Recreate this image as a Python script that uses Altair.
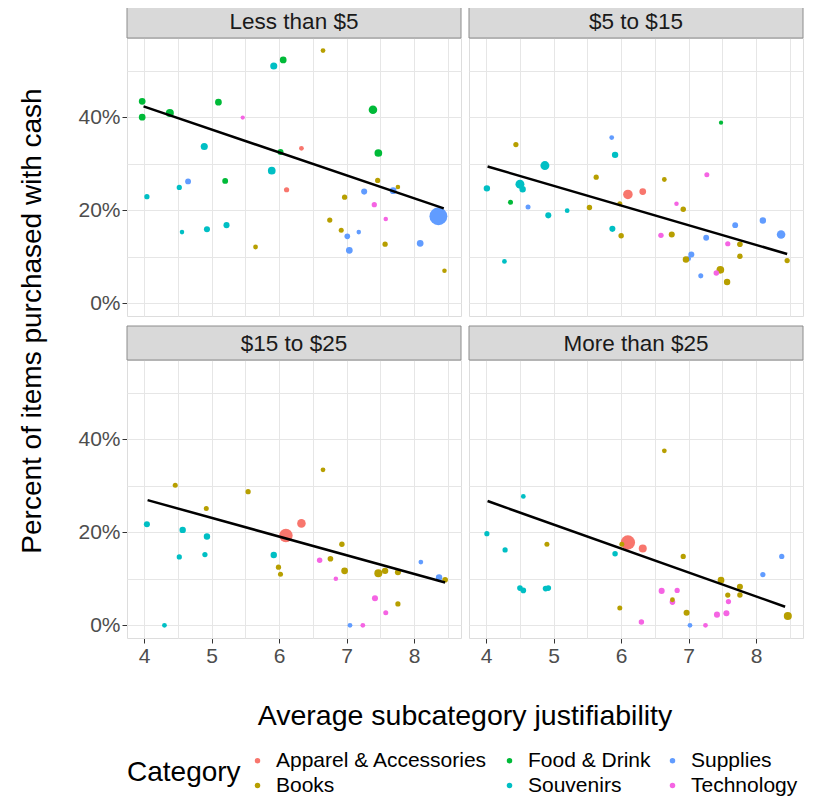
import altair as alt
import pandas as pd

FONT = "Liberation Sans"

CATS = {"A": "Apparel & Accessories", "B": "Books", "F": "Food & Drink",
        "S": "Souvenirs", "U": "Supplies", "T": "Technology"}
legend_order = ["Apparel & Accessories", "Food & Drink", "Supplies",
                "Books", "Souvenirs", "Technology"]
legend_colors = ["#F8766D", "#00BA38", "#619CFF", "#B79F00", "#00BFC4", "#F564E3"]

panels = ["Less than $5", "$5 to $15", "$15 to $25", "More than $25"]

# Panel 1: Less than $5
p1_x = [3.97, 3.97, 4.38, 5.10, 5.92, 6.06, 6.65, 5.46, 4.89, 6.33, 6.02, 7.39, 7.47,
        5.89, 4.65, 4.52, 5.20, 4.04, 6.11, 7.46, 7.76, 7.69, 7.26, 6.97, 7.41, 7.58,
        8.36, 6.75, 6.92, 7.01, 7.18, 4.56, 4.93, 5.22, 5.65, 7.04, 7.57, 8.09, 8.45]
p1_y = [43.4, 40.0, 40.9, 43.2, 51.0, 52.3, 54.3, 39.9, 33.7, 33.3, 32.5, 41.6, 32.3,
        28.5, 26.2, 24.9, 26.3, 22.9, 24.4, 26.4, 25.0, 24.2, 24.0, 22.8, 21.2, 18.1,
        18.7, 17.9, 15.7, 14.4, 15.3, 15.3, 15.9, 16.8, 12.1, 11.4, 12.7, 12.9, 7.0]
p1_c = ["F", "F", "F", "F", "S", "F", "B", "T", "S", "A", "F", "F", "F",
        "S", "U", "S", "F", "S", "A", "B", "B", "U", "U", "B", "T", "T",
        "U", "B", "B", "U", "U", "S", "S", "S", "B", "U", "B", "U", "B"]
p1_n = [20, 20, 28, 20, 22, 20, 10, 8, 22, 10, 16, 32, 26,
        26, 15, 12, 15, 12, 12, 12, 9, 20, 16, 12, 12, 9,
        140, 12, 11, 14, 9, 9, 16, 16, 10, 20, 12, 20, 9]

# Panel 2: $5 to $15
p2_x = [7.48, 5.86, 4.44, 5.91, 4.87, 7.27, 5.63, 6.64, 4.50, 4.54, 4.01, 6.10, 6.32,
        4.36, 4.62, 5.98, 6.82, 6.92, 5.53, 5.20, 4.92, 5.87, 6.00, 6.59, 6.75, 7.26,
        7.69, 8.10, 8.37, 7.58, 7.76, 7.76, 7.00, 6.96, 7.04, 4.27, 8.46, 7.47, 7.41,
        7.57, 7.18]
p2_y = [38.8, 35.6, 34.1, 31.9, 29.6, 27.6, 27.1, 26.6, 25.6, 24.5, 24.7, 23.4, 24.0,
        21.7, 20.7, 21.4, 21.4, 20.2, 20.6, 19.9, 18.9, 16.0, 14.5, 14.6, 14.8, 14.1,
        16.8, 17.8, 14.8, 12.8, 12.7, 10.1, 9.6, 9.4, 10.5, 9.0, 9.2, 7.2, 6.5,
        4.6, 5.9]
p2_c = ["F", "U", "B", "S", "S", "T", "B", "B", "S", "S", "S", "A", "A",
        "F", "U", "B", "T", "B", "B", "S", "S", "S", "B", "T", "B", "U",
        "U", "U", "U", "T", "B", "B", "U", "B", "U", "S", "B", "B", "T",
        "B", "U"]
p2_n = [8, 10, 12, 18, 35, 11, 12, 10, 35, 18, 18, 40, 20,
        11, 11, 11, 9, 13, 13, 10, 16, 16, 13, 13, 16, 15,
        15, 18, 32, 12, 14, 13, 10, 18, 16, 10, 12, 26, 13,
        18, 11]

# Panel 3: $15 to $25
p3_x = [6.65, 4.46, 5.54, 4.92, 4.04, 6.33, 6.10, 4.57, 4.93, 6.93, 4.52, 4.90, 5.92,
        5.99, 6.02, 6.60, 6.76, 6.84, 6.97, 7.47, 7.57, 7.76, 8.10, 8.37, 8.46, 7.42,
        7.58, 7.76, 4.30, 7.05, 7.24]
p3_y = [33.4, 30.1, 28.7, 25.1, 21.7, 21.9, 19.3, 20.5, 19.1, 17.4, 14.7, 15.2, 15.1,
        12.5, 11.0, 14.0, 14.3, 10.0, 11.7, 11.2, 11.7, 11.4, 13.6, 10.3, 9.8, 5.8,
        2.7, 4.6, 0.0, 0.0, 0.0]
p3_c = ["B", "B", "B", "B", "S", "A", "A", "S", "S", "B", "S", "S", "S",
        "B", "B", "T", "B", "T", "B", "B", "B", "B", "U", "U", "B", "T",
        "T", "B", "S", "U", "T"]
p3_n = [10, 11, 12, 11, 16, 32, 80, 18, 18, 13, 12, 12, 18,
        12, 11, 13, 14, 9, 20, 28, 18, 16, 10, 18, 14, 16,
        11, 12, 10, 10, 10]

# Panel 4: More than $25
p4_x = [6.64, 4.55, 4.01, 4.28, 4.90, 6.10, 6.01, 6.32, 5.91, 6.92, 8.38, 8.10, 7.48,
        7.76, 7.76, 7.58, 7.59, 4.50, 4.55, 4.88, 4.92, 6.60, 6.83, 6.76, 6.76, 5.98,
        6.97, 7.42, 7.56, 8.47, 6.30, 7.02, 7.25]
p4_y = [37.5, 27.7, 19.7, 16.2, 17.4, 17.8, 17.4, 16.5, 15.4, 14.8, 14.8, 10.9, 9.7,
        8.3, 6.5, 6.5, 5.1, 8.0, 7.5, 7.9, 8.0, 7.4, 7.5, 5.0, 5.5, 3.7,
        2.7, 2.3, 2.6, 2.0, 0.7, 0.0, 0.0]
p4_c = ["B", "S", "S", "S", "B", "A", "B", "A", "S", "B", "U", "U", "B",
        "B", "B", "B", "T", "S", "S", "S", "S", "T", "T", "T", "B", "B",
        "B", "T", "T", "B", "T", "U", "T"]
p4_n = [10, 10, 12, 12, 11, 90, 11, 28, 13, 12, 12, 12, 20,
        16, 13, 12, 12, 14, 14, 14, 14, 16, 12, 14, 10, 11,
        16, 16, 16, 28, 13, 10, 10]

# Fitted trend lines (end points)
fit_x = [[3.99, 8.44], [4.02, 8.46], [4.05, 8.46], [4.02, 8.43]]
fit_y = [[42.3, 20.4], [29.4, 10.6], [26.9, 9.2], [26.7, 4.0]]

X = [p1_x, p2_x, p3_x, p4_x]
Y = [p1_y, p2_y, p3_y, p4_y]
C = [p1_c, p2_c, p3_c, p4_c]
N = [p1_n, p2_n, p3_n, p4_n]

records = []
for i, name in enumerate(panels):
    xs, ys, cs, ns = X[i], Y[i], C[i], N[i]
    assert len(xs) == len(ys) == len(cs) == len(ns), name
    for order, (x, y, c, n) in enumerate(zip(xs, ys, cs, ns)):
        records.append({"price": name, "r": i // 2, "c": i % 2, "kind": "pt", "x": x,
                        "y": y / 100.0, "cat": CATS[c], "n": n, "o": order})
    for order, (x, y) in enumerate(zip(fit_x[i], fit_y[i])):
        records.append({"price": name, "r": i // 2, "c": i % 2, "kind": "fit", "x": x,
                        "y": y / 100.0, "cat": None, "n": None, "o": order})
df = pd.DataFrame(records)

W, H = 334, 278
STRIP = 34
TICK_FS = 21

x_axis = alt.Axis(
    values=[4, 4.5, 5, 5.5, 6, 6.5, 7, 7.5, 8, 8.5],
    labelExpr="datum.value % 1 == 0 ? format(datum.value, 'd') : ''",
    grid=True, gridColor="#E6E6E6", gridWidth=1,
    domain=False, tickColor="#333333", tickSize=5,
    tickOpacity={"condition": {"test": "datum.value % 1 == 0", "value": 1}, "value": 0},
    labelFontSize=TICK_FS, labelColor="#4D4D4D", labelFont=FONT, labelPadding=2,
    labelOverlap=False, title=None,
)
y_axis = alt.Axis(
    values=[0, 0.1, 0.2, 0.3, 0.4, 0.5],
    labelExpr="round(datum.value * 10) % 2 == 0 ? format(datum.value, '.0%') : ''",
    grid=True, gridColor="#E6E6E6", gridWidth=1,
    domain=False, tickColor="#333333", tickSize=5,
    tickOpacity={"condition": {"test": "round(datum.value * 10) % 2 == 0", "value": 1}, "value": 0},
    labelFontSize=TICK_FS, labelColor="#4D4D4D", labelFont=FONT, labelPadding=2,
    labelOverlap=False, title=None,
)

x_scale = alt.Scale(domain=[3.745, 8.695], nice=False, zero=False)
y_scale = alt.Scale(domain=[-0.0272, 0.570], nice=False, zero=False)

points = alt.Chart().transform_filter(
    alt.datum.kind == "pt"
).mark_circle(opacity=1).encode(
    x=alt.X("x:Q", scale=x_scale, axis=x_axis),
    y=alt.Y("y:Q", scale=y_scale, axis=y_axis),
    color=alt.Color(
        "cat:N",
        scale=alt.Scale(domain=legend_order, range=legend_colors),
        legend=alt.Legend(
            title="Category", orient="bottom", direction="horizontal", columns=3,
            titleOrient="left", titleFontSize=28, titleFontWeight="normal",
            titleColor="black", titleFont=FONT, titleAnchor="middle", titleBaseline="middle",
            labelFontSize=21, labelColor="black", labelFont=FONT, labelLimit=400,
            symbolType="circle", symbolSize=30, symbolStrokeWidth=0,
            columnPadding=11, rowPadding=3, labelOffset=8, titlePadding=6, offset=19,
        ),
    ),
    size=alt.Size("n:Q", scale=alt.Scale(domain=[0, 140], range=[0, 320]), legend=None),
    order=alt.Order("o:Q"),
)

line = alt.Chart().transform_filter(
    alt.datum.kind == "fit"
).mark_line(color="black", strokeWidth=2.5).encode(
    x=alt.X("x:Q", scale=x_scale, axis=x_axis),
    y=alt.Y("y:Q", scale=y_scale, axis=y_axis),
    order=alt.Order("o:Q"),
)

strip_base = alt.Chart().transform_aggregate(k="count()", groupby=["price", "r", "c"])
strip_rect = strip_base.mark_rect(
    fill="#D9D9D9", stroke="#8C8C8C", strokeWidth=1
).encode(
    x=alt.value(0), x2=alt.value(W), y=alt.value(-STRIP), y2=alt.value(0)
)
strip_text = strip_base.mark_text(
    fontSize=22.5, color="#1A1A1A", font=FONT, baseline="middle", align="center"
).encode(
    x=alt.value(W / 2), y=alt.value(-STRIP / 2 + 1), text="price:N"
)

layered = alt.layer(points, line, strip_rect, strip_text, data=df).properties(
    width=W, height=H
)

chart = layered.facet(
    row=alt.Row("r:O", header=alt.Header(
        labels=False, labelPadding=0, title="Percent of items purchased with cash",
        titleFontSize=28, titleFontWeight="normal", titleColor="black",
        titleFont=FONT, titlePadding=20)),
    column=alt.Column("c:O", header=alt.Header(
        labels=False, labelPadding=0, title="Average subcategory justifiability",
        titleOrient="bottom",
        titleFontSize=28.5, titleFontWeight="normal", titleColor="black",
        titleFont=FONT, titlePadding=26)),
    spacing={"row": STRIP + 10, "column": 8},
    bounds="flush",
).properties(
    padding={"left": 10, "top": -5, "right": 0, "bottom": 0}
).configure_view(
    stroke="#8C8C8C", strokeWidth=1, fill="#F5F5F5"
).configure(
    font=FONT
)

chart.save("out.html", embed_options={"renderer": "svg", "actions": False})
